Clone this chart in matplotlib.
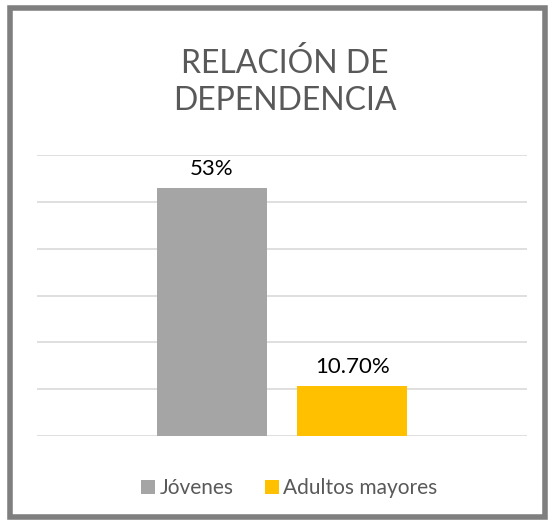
import matplotlib.pyplot as plt
from matplotlib.patches import Rectangle

plt.rcParams['font.family'] = ['Lato', 'DejaVu Sans']

series = ["Jóvenes", "Adultos mayores"]
values = [53.0, 10.7]
value_labels = ["53%", "10.70%"]
colors = ["#a5a5a5", "#ffc000"]

fig = plt.figure(figsize=(5.52, 5.24), dpi=100)
ax = fig.add_axes([0.067, 0.168, 0.888, 0.536])

offsets = [-0.143, 0.143]
width = 0.224
for name, val, lab, col, off in zip(series, values, value_labels, colors, offsets):
    ax.bar(off, val, width=width, color=col, label=name, zorder=2)
    ax.text(off, val + 2.0, lab, ha="center", va="bottom", fontsize=16, color="black")

ax.set_xlim(-0.5, 0.5)
ax.set_ylim(0, 60)
ax.set_yticks(range(0, 61, 10))
ax.grid(axis="y", color="#d9d9d9", linewidth=1.2, zorder=0)
ax.tick_params(left=False, bottom=False, labelleft=False, labelbottom=False)
for s in ax.spines.values():
    s.set_visible(False)

fig.text(0.516, 0.844, "RELACIÓN DE\nDEPENDENCIA", ha="center", va="center",
         fontsize=23, color="#595959", linespacing=1.3, fontweight="normal")

fig.legend(loc="center", bbox_to_anchor=(0.524, 0.068), ncol=2, frameon=False,
           fontsize=15, labelcolor="#595959", handlelength=0.7, handleheight=0.7,
           handletextpad=0.2, columnspacing=1.5)

# chart border
fig.patches.append(Rectangle((10 / 552, 7 / 524), 535 / 552, 509 / 524,
                             transform=fig.transFigure, fill=False,
                             edgecolor="#7f7f7f", linewidth=4))

fig.savefig("out.png", dpi=100)
